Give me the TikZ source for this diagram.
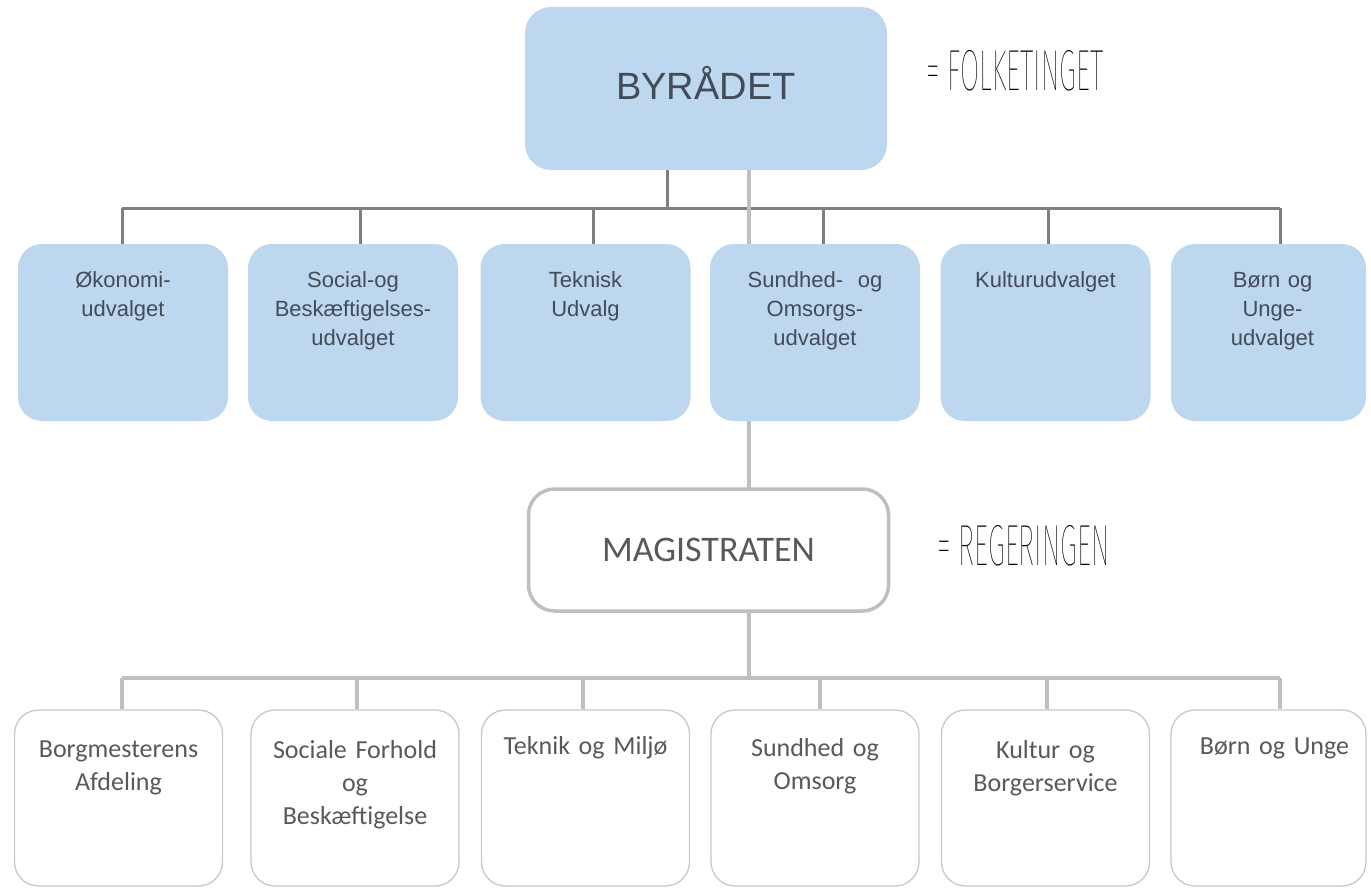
\documentclass[tikz,border=0pt]{standalone}
\usepackage{fontspec}
\usepackage{graphicx}
\setmainfont{Liberation Sans}
\newfontfamily\calibrifont{Carlito}
\IfFontExistsTF{Fira Sans Hair}{\newfontfamily\tyndfont{Fira Sans Hair}}{%
 \IfFontExistsTF{Fira Sans Thin}{\newfontfamily\tyndfont{Fira Sans Thin}}{%
  \IfFontExistsTF{Lato Hairline}{\newfontfamily\tyndfont{Lato Hairline}}{%
   \IfFontExistsTF{DejaVu Sans ExtraLight}{\newfontfamily\tyndfont{DejaVu Sans ExtraLight}}{%
    \newfontfamily\tyndfont{Liberation Sans}}}}}
\usetikzlibrary{backgrounds}
\definecolor{udvalgblaa}{HTML}{BDD7EE}
\definecolor{tekstblaa}{HTML}{424C58}
\definecolor{tekstgraa}{HTML}{595959}
\definecolor{streg}{HTML}{7F7F7F}
\definecolor{lysstreg}{HTML}{BFBFBF}
\definecolor{kant}{HTML}{C8C8C8}
\tikzset{
  udvalg/.style={shape=rectangle, rounded corners=24pt, fill=udvalgblaa, minimum width=210pt, minimum height=177pt, inner sep=0pt},
  afdeling/.style={shape=rectangle, rounded corners=24pt, draw=kant, line width=1.3pt, fill=white, minimum width=208pt, minimum height=176pt, inner sep=0pt},
  utekst/.style={anchor=north, inner sep=0pt, text width=200pt, align=center, font=\fontsize{22}{29}\selectfont, text=tekstblaa, yshift=-28pt},
  atekst/.style={anchor=north, inner sep=0pt, text width=200pt, align=center, font=\calibrifont\fontsize{26}{33}\selectfont, text=tekstgraa, yshift=-31pt},
  lig/.style={anchor=west, inner sep=0pt, font=\tyndfont\fontsize{58}{58}\selectfont},
  moerk/.style={-, line width=3pt, draw=streg},
  lys/.style={-, line width=4pt, draw=lysstreg},
}
\begin{document}
\begin{tikzpicture}[x=1pt, y=-1pt]
\useasboundingbox (0,0) rectangle (1371,889);
% top
\node[shape=rectangle, rounded corners=26pt, fill=udvalgblaa, minimum width=362pt, minimum height=163pt, text depth=12pt, text=tekstblaa, font=\fontsize{38}{38}\selectfont] (byraad) at (706,88.5) {BYRÅDET};
\node[lig] (folk) at (926,71) {\scalebox{0.48}[1]{=\ FOLKETINGET}};
% udvalg
\node[udvalg] (u1) at (123,332.5) {};
\node[udvalg] (u2) at (353,332.5) {};
\node[udvalg] (u3) at (585.5,332.5) {};
\node[udvalg] (u4) at (815,332.5) {};
\node[udvalg] (u5) at (1045.5,332.5) {};
\node[udvalg, minimum width=195pt] (u6) at (1268.5,332.5) {};
\node[utekst] (t1) at (u1.north) {Økonomi-\\udvalget};
\node[utekst] (t2) at (u2.north) {Social-og\\Beskæftigelses-\\udvalget};
\node[utekst] (t3) at (u3.north) {Teknisk\\Udvalg};
\node[utekst] (t4) at (u4.north) {Sundhed-\ \ og\\Omsorgs-\\udvalget};
\node[utekst] (t5) at (u5.north) {Kulturudvalget};
\node[utekst, xshift=4pt] (t6) at (u6.north) {Børn og\\Unge-\\udvalget};
% magistraten
\node[shape=rectangle, rounded corners=26pt, draw=lysstreg, line width=3.5pt, fill=white, minimum width=360pt, minimum height=122pt, text=tekstgraa, font=\calibrifont\fontsize{36}{36}\selectfont] (magi) at (708.5,550) {MAGISTRATEN};
\node[lig] (rege) at (937,546) {\scalebox{0.48}[1]{=\ REGERINGEN}};
% afdelinger
\node[afdeling] (a1) at (118.5,798) {};
\node[afdeling] (a2) at (355,798) {};
\node[afdeling] (a3) at (585.5,798) {};
\node[afdeling] (a4) at (815,798) {};
\node[afdeling] (a5) at (1045.5,798) {};
\node[afdeling, minimum width=195pt] (a6) at (1268.5,798) {};
\node[atekst] (s1) at (a1.north) {Borgmesterens\\Afdeling};
\node[atekst] (s2) at (a2.north) {Sociale Forhold\\og\\Beskæftigelse};
\node[atekst, yshift=4pt] (s3) at (a3.north) {Teknik og Miljø};
\node[atekst, yshift=2pt] (s4) at (a4.north) {Sundhed og\\Omsorg};
\node[atekst] (s5) at (a5.north) {Kultur og\\Borgerservice};
\node[atekst, yshift=3pt, xshift=6pt] (s6) at (a6.north) {Børn og Unge};
% streger
\coordinate (k0) at (667,208);
\coordinate (k1) at (122,208);
\coordinate (k2) at (360,208);
\coordinate (k3) at (593,208);
\coordinate (k4) at (823,208);
\coordinate (k5) at (1048,208);
\coordinate (k6) at (1280,208);
\coordinate (mtop) at (749,488);
\coordinate (l0) at (749,678);
\coordinate (l1) at (122,678);
\coordinate (l2) at (357,678);
\coordinate (l3) at (583,678);
\coordinate (l4) at (820,678);
\coordinate (l5) at (1047,678);
\coordinate (l6) at (1280,678);
\begin{pgfonlayer}{background}
\path [moerk] (byraad.south -| k0) edge (k0);
\path [moerk] (k1) edge (k6);
\path [moerk] (k1) edge (k1 |- u1.north);
\path [moerk] (k2) edge (k2 |- u2.north);
\path [moerk] (k3) edge (k3 |- u3.north);
\path [moerk] (k4) edge (k4 |- u4.north);
\path [moerk] (k5) edge (k5 |- u5.north);
\path [moerk] (k6) edge (k6 |- u6.north);
\path [lys] (byraad.south -| mtop) edge (mtop);
\path [lys] (magi.south -| l0) edge (l0);
\path [lys] (l1) edge (l6);
\path [lys] (l1) edge (l1 |- a1.north);
\path [lys] (l2) edge (l2 |- a2.north);
\path [lys] (l3) edge (l3 |- a3.north);
\path [lys] (l4) edge (l4 |- a4.north);
\path [lys] (l5) edge (l5 |- a5.north);
\path [lys] (l6) edge (l6 |- a6.north);
\end{pgfonlayer}
\end{tikzpicture}
\end{document}
